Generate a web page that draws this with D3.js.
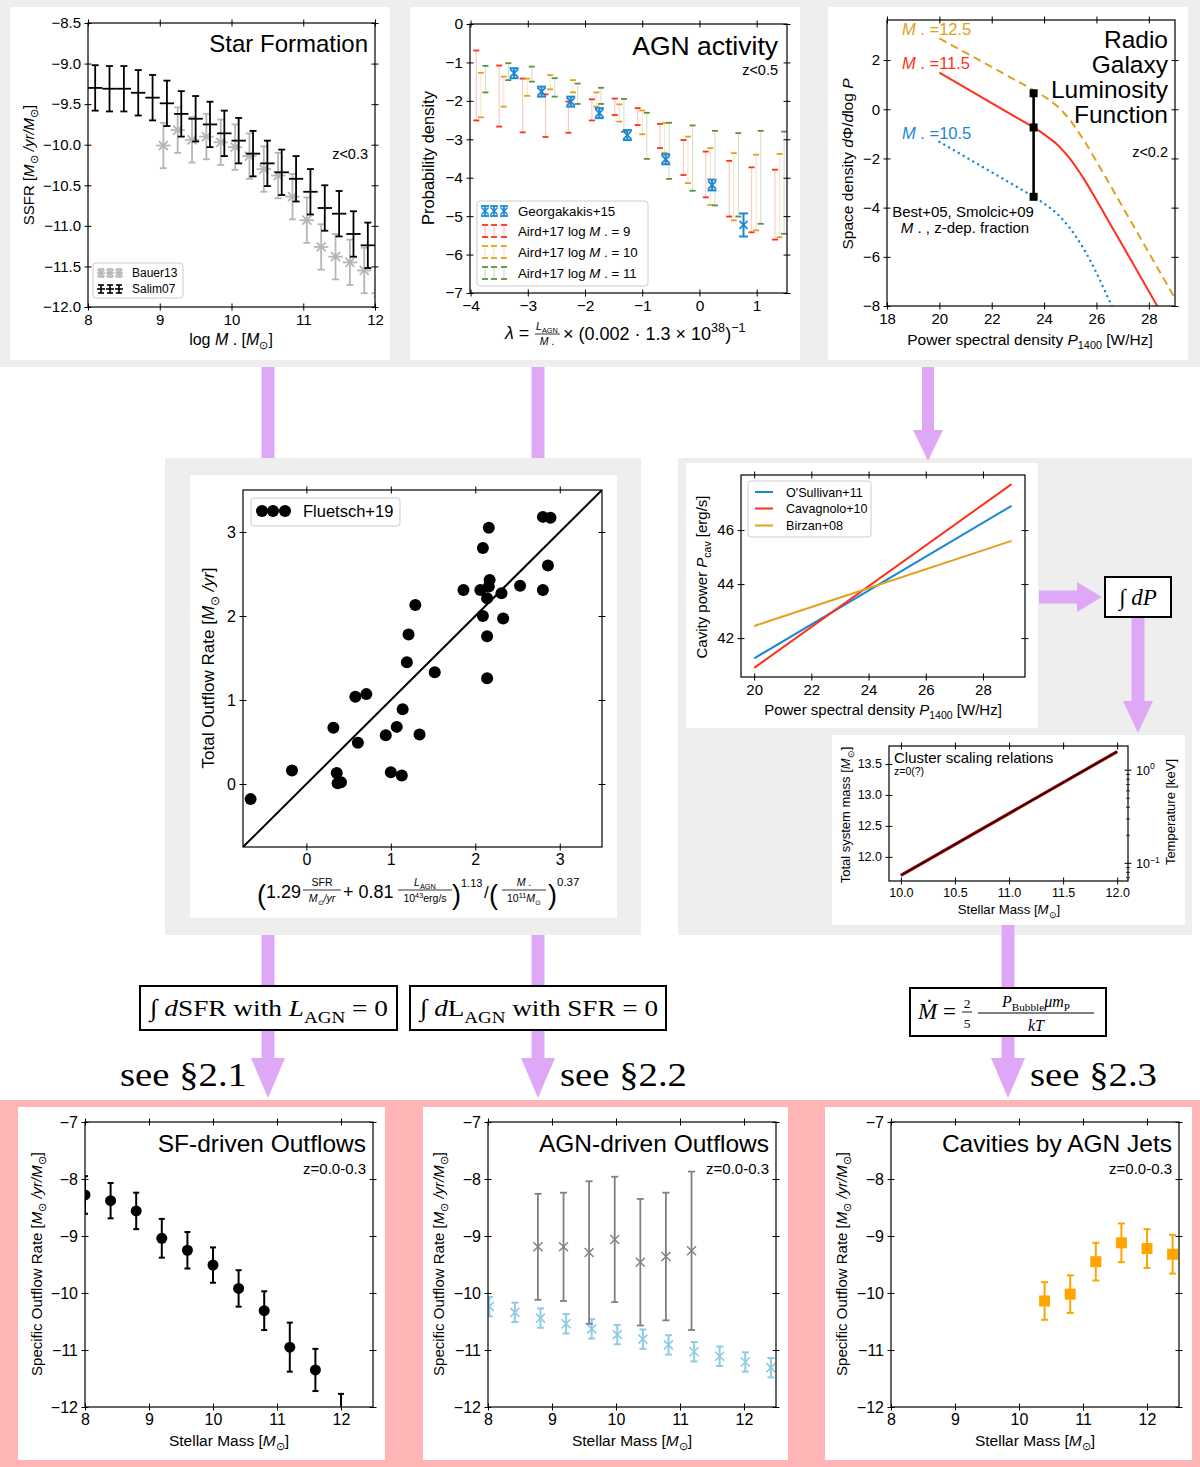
<!DOCTYPE html>
<html><head><meta charset="utf-8">
<script src="https://cdn.jsdelivr.net/npm/d3@7"></script>
<style>body{margin:0;background:#fff}</style>
</head><body><script>
// ---------- data ----------
// Star formation (top left)
const salimMass = [8.1,8.3,8.5,8.7,8.9,9.1,9.3,9.5,9.7,9.9,10.1,10.3,10.5,10.7,10.9,11.1,11.3,11.5,11.7,11.9];
const salimSSFR = [-9.30,-9.31,-9.31,-9.36,-9.42,-9.49,-9.62,-9.68,-9.75,-9.86,-9.95,-10.11,-10.23,-10.34,-10.42,-10.58,-10.78,-10.85,-11.10,-11.24];
const bauerMass = [9.05,9.25,9.45,9.65,9.85,10.05,10.25,10.45,10.65,10.85,11.05,11.25,11.45,11.65,11.85,12.05];
const bauerSSFR = [-10.01,-9.82,-9.94,-9.90,-9.97,-10.03,-10.14,-10.30,-10.38,-10.64,-10.93,-11.26,-11.38,-11.45,-11.55,-11.83];
const ssfrErr = 0.28, massBin = 0.1;

// AGN activity (top middle)
const geoLambda = [-3.24,-2.76,-2.25,-1.75,-1.26,-0.59,0.22,0.77];
const geoDens = [-1.28,-1.76,-2.02,-2.32,-2.89,-3.52,-4.19,-5.23];
const geoErr = [0.13,0.13,0.13,0.13,0.13,0.13,0.14,0.30];
const airdLambda = [-3.90,-3.50,-3.09,-2.69,-2.29,-1.88,-1.48,-1.08,-0.69,-0.28,0.11,0.52,0.91,1.32];
const airdShift = [0, 0.08, 0.16];
const aird9Hi  = [-0.69,-1.08,-1.42,-1.83,-2.02,-1.96,-1.94,-2.19,-2.60,-3.02,-3.32,-3.56,-3.73,-3.79];
const aird9Lo  = [-2.51,-2.67,-2.82,-2.94,-2.83,-2.51,-2.37,-2.63,-3.23,-3.93,-4.51,-5.01,-5.42,-5.61];
const aird10Hi = [-1.27,-1.37,-1.42,-1.33,-1.46,-1.78,-2.09,-2.25,-2.58,-2.93,-3.23,-3.36,-3.40,-3.38];
const aird10Lo = [-2.43,-2.15,-1.87,-1.70,-1.78,-2.15,-2.54,-2.87,-3.35,-4.14,-4.71,-5.11,-5.37,-5.55];
const aird11Hi = [-1.09,-1.02,-1.11,-1.41,-1.55,-1.66,-1.95,-2.31,-2.57,-2.64,-2.78,-2.84,-2.78,-2.80];
const aird11Lo = [-1.78,-1.46,-1.50,-1.89,-2.08,-2.08,-2.80,-3.51,-4.03,-4.34,-4.72,-5.01,-5.20,-5.46];

// Radio luminosity function (top right)
const radioP = [20,21,22,23,23.6,24,24.25,24.5,24.75,25,25.25,25.5,26,26.5,27,27.5,28,28.5,29];
const rlf125 = [2.88,2.30,1.72,1.13,0.78,0.52,0.34,0.12,-0.14,-0.45,-0.83,-1.23,-2.12,-3.04,-3.97,-4.90,-5.83,-6.76,-7.69];
const rlf115 = [1.49,0.87,0.25,-0.37,-0.74,-1.02,-1.22,-1.43,-1.71,-2.03,-2.40,-2.80,-3.69,-4.62,-5.54,-6.47,-7.40,-8.33,-9.26];
const rlf105 = [-1.32,-1.94,-2.56,-3.18,-3.56,-3.83,-4.03,-4.25,-4.53,-4.85,-5.23,-5.65,-6.65,-7.80,-8.90];
const bestP = 23.6, bestDens = [0.65,-0.74,-3.56];

// Outflow scaling (middle left)
const fluetschX = [-0.66,-0.17,0.32,0.36,0.37,0.41,0.58,0.71,0.61,0.94,1.00,1.07,1.13,1.14,1.19,1.21,1.29,1.34,1.52,1.86,2.06,2.09,2.09,2.14,2.14,2.14,2.16,2.17,2.16,2.31,2.33,2.53,2.80,2.80,2.89,2.86];
const fluetschY = [-0.18,0.16,0.67,0.13,0.01,0.02,1.04,1.07,0.49,0.58,0.14,0.68,0.10,0.89,1.45,1.78,2.13,0.59,1.33,2.31,2.31,2.00,2.81,1.26,1.76,2.21,2.35,2.43,3.05,2.27,1.97,2.36,2.31,3.18,3.17,2.60];

// Cavity power relations (middle right)
const cavPower = [20, 29];
const osullivan = [41.25, 46.9];
const cavagnolo = [40.9, 47.7];
const birzan = [42.45, 45.6];

// Cluster scaling
const clusterMstar = [10, 12];
const clusterMtot = [11.7, 13.7];

// Bottom: specific outflow rates
const sfMass = [8.0,8.4,8.8,9.2,9.6,10.0,10.4,10.8,11.2,11.6,12.0];
const sfRate = [-8.28,-8.38,-8.56,-9.04,-9.25,-9.51,-9.92,-10.31,-10.95,-11.35,-12.12];
const sfErr  = [0.33,0.31,0.32,0.34,0.32,0.31,0.32,0.34,0.43,0.37,0.35];
const agnGreyMass = [8.78,9.18,9.58,9.98,10.38,10.78,11.18];
const agnGreyRate = [-9.19,-9.19,-9.29,-9.06,-9.46,-9.36,-9.26];
const agnGreyErr  = [0.93,0.95,1.25,1.10,1.11,1.12,1.39];
const agnBlueMass = [8.02,8.42,8.82,9.22,9.62,10.02,10.42,10.82,11.22,11.62,12.02,12.42];
const agnBlueRate = [-10.24,-10.34,-10.44,-10.54,-10.63,-10.73,-10.81,-10.91,-11.03,-11.11,-11.21,-11.31];
const agnBlueErr = 0.17;
const cavMass = [10.4,10.8,11.2,11.6,12.0,12.4];
const cavRate = [-10.14,-10.02,-9.45,-9.12,-9.22,-9.32];
const cavErr  = [0.33,0.33,0.33,0.34,0.34,0.34];

// ---------- styles ----------
const SANS = "'Liberation Sans', Arial, Helvetica, sans-serif";
const SERIF = "'Liberation Serif', 'DejaVu Serif', serif";
const LAV = "#dfa8f6";
const RED = "#ff3019", GOLD = "#e3a020", GREEN = "#5e8f3e", BLUE = "#1b88d4";

const svg = d3.select("body").append("svg")
    .attr("width", 1200).attr("height", 1467)
    .attr("font-family", SANS);

function box(x, y, w, h, fill) {
    return svg.append("rect").attr("x", x).attr("y", y).attr("width", w).attr("height", h).attr("fill", fill);
}

// backgrounds
box(0, 0, 1200, 367, "#eeeeee");
box(165, 458, 476, 477, "#eeeeee");
box(678, 458, 514, 477, "#eeeeee");
box(0, 1100, 1200, 367, "#ffb5b5");
box(10, 7, 380, 353, "#fff");
box(410, 7, 390, 353, "#fff");
box(828, 7, 360, 353, "#fff");
box(190, 475, 427, 443, "#fff");
box(686, 463, 352, 265, "#fff");
box(832, 735, 353, 190, "#fff");
box(18, 1107, 367, 353, "#fff");
box(423, 1107, 365, 353, "#fff");
box(825, 1107, 367, 353, "#fff");

// text with italic / sub / sup pieces
function rich(t, parts, fs) {
    let cur = 0;
    parts.forEach(p => {
        if (typeof p === "string") p = {t: p};
        const s = p.sub ? 0.28 * fs : p.sup ? -0.42 * fs : 0;
        const ts = t.append("tspan").text(p.t);
        if (s - cur !== 0) ts.attr("dy", s - cur);
        cur = s;
        if (p.i) ts.attr("font-style", "italic");
        if (p.sub || p.sup) ts.attr("font-size", fs * 0.7);
    });
    return t;
}
function label(parent, x, y, fs, parts, opt) {
    opt = opt || {};
    const t = parent.append("text").attr("x", x).attr("y", y).attr("font-size", fs)
        .attr("text-anchor", opt.anchor || "start").attr("fill", opt.color || "#000");
    if (opt.rot) t.attr("transform", "rotate(" + opt.rot + "," + x + "," + y + ")");
    if (opt.family) t.attr("font-family", opt.family);
    if (opt.len) t.attr("textLength", opt.len).attr("lengthAdjust", "spacingAndGlyphs");
    rich(t, typeof parts === "string" ? [parts] : parts, fs);
    return t;
}
const MSUN = [{t: "M", i: 1}, {t: "⊙", sub: 1}];

let clipCount = 0;
function panel(o) {
    const x = d3.scaleLinear().domain(o.xd).range([o.l, o.r]);
    const y = d3.scaleLinear().domain(o.yd).range([o.b, o.t]);
    const g = svg.append("g");
    const id = "clip" + (clipCount++);
    g.append("clipPath").attr("id", id).append("rect")
        .attr("x", o.l).attr("y", o.t).attr("width", o.r - o.l).attr("height", o.b - o.t);
    const plot = g.append("g").attr("clip-path", "url(#" + id + ")");
    const fs = o.fs || 13, tl = 3.5;
    const xf = o.xf || d3.format("d"), yf = o.yf || d3.format("d");
    let sides = [
        {ax: d3.axisBottom(x), tr: "translate(0," + o.b + ")", v: o.xt, f: xf, show: true, k: "y1", s: -tl},
        {ax: d3.axisTop(x), tr: "translate(0," + o.t + ")", v: o.xt, f: xf, show: false, k: "y1", s: tl},
        {ax: d3.axisLeft(y), tr: "translate(" + o.l + ",0)", v: o.yt, f: yf, show: true, k: "x1", s: tl}
    ];
    if (!o.noRight) sides.push({ax: d3.axisRight(y), tr: "translate(" + o.r + ",0)", v: o.yt, f: yf, show: false, k: "x1", s: -tl});
    sides.forEach(s => {
        const a = g.append("g").attr("transform", s.tr)
            .call(s.ax.tickValues(s.v).tickSize(tl).tickSizeOuter(0).tickPadding(3.5)
                .tickFormat(s.show ? s.f : () => ""));
        a.attr("font-family", SANS).attr("font-size", fs);
        a.select(".domain").remove();
        a.selectAll(".tick line").attr(s.k, s.s).attr("stroke-width", 1);
    });
    g.append("rect").attr("x", o.l).attr("y", o.t).attr("width", o.r - o.l).attr("height", o.b - o.t)
        .attr("fill", "none").attr("stroke", "#000").attr("stroke-width", 1.2);
    return {x, y, g, plot};
}

function seg(sel, x1, y1, x2, y2, color, w, op) {
    return sel.append("line").attr("x1", x1).attr("y1", y1).attr("x2", x2).attr("y2", y2)
        .attr("stroke", color).attr("stroke-width", w).attr("stroke-opacity", op == null ? 1 : op);
}
function errV(sel, cx, y1, y2, cap, color, w) {
    seg(sel, cx, y1, cx, y2, color, w);
    seg(sel, cx - cap / 2, y1, cx + cap / 2, y1, color, w);
    seg(sel, cx - cap / 2, y2, cx + cap / 2, y2, color, w);
}
function xmark(sel, cx, cy, h, color, w) {
    sel.append("path").attr("d", `M${cx - h},${cy - h}L${cx + h},${cy + h}M${cx - h},${cy + h}L${cx + h},${cy - h}`)
        .attr("stroke", color).attr("stroke-width", w).attr("fill", "none");
}

// ================= Star Formation =================
{
    const p = panel({l: 88, r: 375, t: 23, b: 307, xd: [8, 12], yd: [-12, -8.5],
        xt: [8, 9, 10, 11, 12], yt: d3.range(-12, -8.49, 0.5), yf: d3.format(".1f"), fs: 15});
    const grey = "#b5b5b5";
    bauerMass.forEach((m, i) => {
        const cx = p.x(m), cy = p.y(bauerSSFR[i]);
        seg(p.plot, p.x(m - massBin), cy, p.x(m + massBin), cy, grey, 1.8);
        errV(p.plot, cx, p.y(bauerSSFR[i] - ssfrErr), p.y(bauerSSFR[i] + ssfrErr), 7, grey, 1.8);
        xmark(p.plot, cx, cy, 4.5, grey, 1.8);
    });
    salimMass.forEach((m, i) => {
        const cx = p.x(m), cy = p.y(salimSSFR[i]);
        seg(p.plot, p.x(m - massBin), cy, p.x(m + massBin), cy, "#000", 1.8);
        errV(p.plot, cx, p.y(salimSSFR[i] - ssfrErr), p.y(salimSSFR[i] + ssfrErr), 7, "#000", 1.8);
    });
    label(p.g, 368, 52, 24, "Star Formation", {anchor: "end"});
    label(p.g, 368, 159, 14.5, "z<0.3", {anchor: "end"});
    label(p.g, 34, 165, 15, ["SSFR [", ...MSUN, {t: " /yr/", i: 1}, ...MSUN, "]"], {anchor: "middle", rot: -90});
    label(p.g, 231, 345, 16, ["log ", {t: "M", i: 1}, " .  [", ...MSUN, "]"], {anchor: "middle"});
    // legend
    const lg = p.g.append("g");
    lg.append("rect").attr("x", 93).attr("y", 263).attr("width", 90).attr("height", 35).attr("rx", 3)
        .attr("fill", "#fff").attr("stroke", "#ccc");
    [101, 110, 119].forEach(cx => {
        seg(lg, cx - 4, 273, cx + 4, 273, grey, 1.6);
        errV(lg, cx, 269, 277, 6, grey, 1.6);
        xmark(lg, cx, 273, 3.5, grey, 1.6);
        seg(lg, cx - 4, 289, cx + 4, 289, "#000", 1.6);
        errV(lg, cx, 285, 293, 6, "#000", 1.6);
    });
    label(lg, 132, 277, 12, "Bauer13");
    label(lg, 132, 293, 12, "Salim07");
}

// ================= AGN activity =================
{
    const p = panel({l: 470, r: 787, t: 24, b: 293, xd: [-4.01, 1.53], yd: [-7, 0],
        xt: [-4, -3, -2, -1, 0, 1], yt: d3.range(-7, 0.01, 1), fs: 15.5});
    const series = [[aird9Hi, aird9Lo, RED], [aird10Hi, aird10Lo, GOLD], [aird11Hi, aird11Lo, GREEN]];
    series.forEach(([hi, lo, c], k) => {
        airdLambda.forEach((l, i) => {
            const cx = p.x(l + airdShift[k]);
            seg(p.plot, cx, p.y(hi[i]), cx, p.y(lo[i]), c, 1.2, 0.25);
            seg(p.plot, cx - 3, p.y(hi[i]), cx + 3, p.y(hi[i]), c, 1.8);
            seg(p.plot, cx - 3, p.y(lo[i]), cx + 3, p.y(lo[i]), c, 1.8);
        });
    });
    geoLambda.forEach((l, i) => {
        const cx = p.x(l), cy = p.y(geoDens[i]);
        errV(p.plot, cx, p.y(geoDens[i] - geoErr[i]), p.y(geoDens[i] + geoErr[i]), 9, BLUE, 2);
        xmark(p.plot, cx, cy, 4, BLUE, 1.8);
    });
    label(p.g, 778, 55, 26.5, "AGN activity", {anchor: "end"});
    label(p.g, 778, 75, 14.5, "z<0.5", {anchor: "end"});
    label(p.g, 434, 158, 16.5, "Probability density", {anchor: "middle", rot: -90});
    // x label: lambda = L_AGN / M* x (...)^-1
    label(p.g, 505, 339, 18, [{t: "λ", i: 1}, " ="]);
    label(p.g, 547, 330, 10.5, [{t: "L", i: 1}, {t: "AGN", sub: 1}], {anchor: "middle"});
    seg(p.g, 535, 334, 560, 334, "#000", 0.8);
    label(p.g, 547, 345, 10.5, [{t: "M", i: 1}, " ."], {anchor: "middle"});
    label(p.g, 563, 340, 18, ["× (0.002 · 1.3 × 10", {t: "38", sup: 1}, ")", {t: "−1", sup: 1}]);
    // legend
    const lg = p.g.append("g");
    lg.append("rect").attr("x", 477).attr("y", 201).attr("width", 171).attr("height", 85).attr("rx", 3)
        .attr("fill", "#fff").attr("stroke", "#ccc");
    const gx = [485, 494, 504];
    gx.forEach(cx => {
        errV(lg, cx, 206, 216, 8, BLUE, 1.8);
        xmark(lg, cx, 211, 3.5, BLUE, 1.6);
    });
    [[RED, 231], [GOLD, 252], [GREEN, 273]].forEach(([c, cy]) => {
        gx.forEach(cx => {
            seg(lg, cx, cy - 6, cx, cy + 6, c, 1.1, 0.3);
            seg(lg, cx - 3, cy - 6, cx + 3, cy - 6, c, 1.8);
            seg(lg, cx - 3, cy + 6, cx + 3, cy + 6, c, 1.8);
        });
    });
    label(lg, 518, 216, 13.3, "Georgakakis+15");
    label(lg, 518, 236, 13.3, ["Aird+17 log ", {t: "M", i: 1}, " .  = 9"]);
    label(lg, 518, 257, 13.3, ["Aird+17 log ", {t: "M", i: 1}, " .  = 10"]);
    label(lg, 518, 278, 13.3, ["Aird+17 log ", {t: "M", i: 1}, " .  = 11"]);
}

// ================= Radio galaxy luminosity function =================
{
    const p = panel({l: 887, r: 1175, t: 20, b: 306, xd: [18, 29], yd: [-8, 3.63],
        xt: d3.range(18, 28.01, 2), yt: d3.range(-8, 2.01, 2), fs: 15});
    const line = d3.line().x(d => p.x(d[0])).y(d => p.y(d[1])).curve(d3.curveMonotoneX);
    const pts = arr => arr.map((v, i) => [radioP[i], v]);
    p.plot.append("path").attr("d", line(pts(rlf125))).attr("fill", "none")
        .attr("stroke", GOLD).attr("stroke-width", 2).attr("stroke-dasharray", "8,5");
    p.plot.append("path").attr("d", line(pts(rlf115))).attr("fill", "none")
        .attr("stroke", RED).attr("stroke-width", 2);
    p.plot.append("path").attr("d", line(pts(rlf105))).attr("fill", "none")
        .attr("stroke", BLUE).attr("stroke-width", 2.4).attr("stroke-dasharray", "0.1,5.5")
        .attr("stroke-linecap", "round");
    const bx = p.x(bestP);
    seg(p.plot, bx, p.y(bestDens[0]), bx, p.y(bestDens[2]), "#000", 2.6);
    bestDens.forEach(v => p.plot.append("rect").attr("x", bx - 4).attr("y", p.y(v) - 4)
        .attr("width", 8).attr("height", 8).attr("fill", "#000"));
    label(p.g, 902, 35, 16.5, [{t: "M", i: 1}, " . =12.5"], {color: GOLD});
    label(p.g, 902, 69, 16.5, [{t: "M", i: 1}, " . =11.5"], {color: RED});
    label(p.g, 902, 139, 16.5, [{t: "M", i: 1}, " . =10.5"], {color: BLUE});
    ["Radio", "Galaxy", "Luminosity", "Function"].forEach((w, i) =>
        label(p.g, 1168, 48 + i * 25, 24.5, w, {anchor: "end"}));
    label(p.g, 1168, 157, 14.5, "z<0.2", {anchor: "end"});
    label(p.g, 963, 217, 15, "Best+05, Smolcic+09", {anchor: "middle"});
    label(p.g, 965, 233, 15, [{t: "M", i: 1}, " . , z-dep. fraction"], {anchor: "middle"});
    label(p.g, 853, 164, 15.5, ["Space density ", {t: "d", i: 1}, "Φ/", {t: "d", i: 1}, "log ", {t: "P", i: 1}], {anchor: "middle", rot: -90});
    label(p.g, 1030, 345, 15.5, ["Power spectral density ", {t: "P", i: 1}, {t: "1400", sub: 1}, " [W/Hz]"], {anchor: "middle"});
}

// ================= Total outflow rate scatter =================
{
    const p = panel({l: 243, r: 602, t: 490, b: 847, xd: [-0.75, 3.5], yd: [-0.75, 3.5],
        xt: [0, 1, 2, 3], yt: [0, 1, 2, 3], fs: 16});
    seg(p.plot, p.x(-0.75), p.y(-0.75), p.x(3.5), p.y(3.5), "#000", 2);
    fluetschX.forEach((v, i) => p.plot.append("circle").attr("cx", p.x(v)).attr("cy", p.y(fluetschY[i]))
        .attr("r", 6).attr("fill", "#000"));
    const lg = p.g.append("g");
    lg.append("rect").attr("x", 251).attr("y", 498).attr("width", 149).attr("height", 28).attr("rx", 3)
        .attr("fill", "#fff").attr("stroke", "#ccc");
    [262, 273, 285].forEach(cx => lg.append("circle").attr("cx", cx).attr("cy", 511).attr("r", 6).attr("fill", "#000"));
    label(lg, 303, 517, 16.5, "Fluetsch+19");
    label(p.g, 214, 668, 17, ["Total Outflow Rate [", ...MSUN, {t: " /yr", i: 1}, "]"], {anchor: "middle", rot: -90});
    // x label formula
    const f = p.g.append("g");
    label(f, 257, 904, 27, "(");
    label(f, 266, 898, 18, "1.29");
    label(f, 322, 886, 10.5, "SFR", {anchor: "middle"});
    seg(f, 303, 890, 341, 890, "#000", 0.8);
    label(f, 322, 902, 10.5, [...MSUN, {t: "/yr", i: 1}], {anchor: "middle"});
    label(f, 343, 898, 18, "+ 0.81");
    label(f, 425, 886, 10.5, [{t: "L", i: 1}, {t: "AGN", sub: 1}], {anchor: "middle"});
    seg(f, 398, 890, 452, 890, "#000", 0.8);
    label(f, 425, 902, 10.5, ["10", {t: "43", sup: 1}, "erg/s"], {anchor: "middle"});
    label(f, 452, 904, 27, ")");
    label(f, 461, 887, 11, "1.13");
    label(f, 484, 898, 17, "/");
    label(f, 489, 904, 27, "(");
    label(f, 524, 886, 10.5, [{t: "M", i: 1}, " ."], {anchor: "middle"});
    seg(f, 502, 890, 546, 890, "#000", 0.8);
    label(f, 524, 902, 10.5, ["10", {t: "11", sup: 1}, ...MSUN], {anchor: "middle"});
    label(f, 548, 904, 27, ")");
    label(f, 557, 886, 11.5, "0.37");
}

// ================= Cavity power =================
{
    const p = panel({l: 741, r: 1025, t: 475, b: 677, xd: [19.54, 29.47], yd: [40.56, 48.04],
        xt: [20, 22, 24, 26, 28], yt: [42, 44, 46], fs: 15});
    const rels = [[osullivan, BLUE], [cavagnolo, RED], [birzan, GOLD]];
    rels.forEach(([v, c]) => seg(p.plot, p.x(cavPower[0]), p.y(v[0]), p.x(cavPower[1]), p.y(v[1]), c, 2));
    const lg = p.g.append("g");
    lg.append("rect").attr("x", 748).attr("y", 481).attr("width", 123).attr("height", 56).attr("rx", 3)
        .attr("fill", "#fff").attr("stroke", "#ccc");
    [["O'Sullivan+11", BLUE, 492], ["Cavagnolo+10", RED, 508.5], ["Birzan+08", GOLD, 525.5]].forEach(([t, c, cy]) => {
        seg(lg, 755, cy, 773, cy, c, 2);
        label(lg, 786, cy + 4.5, 12.6, t);
    });
    label(p.g, 707, 577, 15, ["Cavity power ", {t: "P", i: 1}, {t: "cav", sub: 1}, " [erg/s]"], {anchor: "middle", rot: -90});
    label(p.g, 883, 715, 15, ["Power spectral density ", {t: "P", i: 1}, {t: "1400", sub: 1}, " [W/Hz]"], {anchor: "middle"});
}

// ================= Cluster scaling relations =================
{
    const p = panel({l: 889, r: 1128, t: 746, b: 881, xd: [9.89, 12.1], yd: [11.61, 13.79],
        xt: [10, 10.5, 11, 11.5, 12], yt: [12, 12.5, 13, 13.5], xf: d3.format(".1f"), yf: d3.format(".1f"),
        fs: 12.5, noRight: true});
    const yT = d3.scaleLog().domain([0.0646, 1.82]).range([881, 746]);
    const rt = p.g.append("g");
    [0.07, 0.08, 0.09, 0.2, 0.3, 0.4, 0.5, 0.6, 0.7, 0.8, 0.9].forEach(v =>
        seg(rt, 1126, yT(v), 1130, yT(v), "#000", 0.8));
    [[0.1, "−1"], [1, "0"]].forEach(([v, e]) => {
        seg(rt, 1124.5, yT(v), 1131.5, yT(v), "#000", 1);
        label(rt, 1136, yT(v) + 4.5, 12.5, ["10", {t: e, sup: 1}]);
    });
    seg(p.plot, p.x(clusterMstar[0]), p.y(clusterMtot[0]), p.x(clusterMstar[1]), p.y(clusterMtot[1]), "#a00000", 3.2);
    seg(p.plot, p.x(clusterMstar[0]), p.y(clusterMtot[0]), p.x(clusterMstar[1]), p.y(clusterMtot[1]), "#1a0000", 1.2);
    label(p.g, 894, 763, 15, "Cluster scaling relations");
    label(p.g, 894, 775, 10.5, "z=0(?)");
    label(p.g, 850, 815, 13, ["Total system mass [", ...MSUN, "]"], {anchor: "middle", rot: -90});
    label(p.g, 1175, 812, 13, "Temperature [keV]", {anchor: "middle", rot: -90});
    label(p.g, 1009, 914, 13.2, ["Stellar Mass [", ...MSUN, "]"], {anchor: "middle"});
}

// ================= bottom row =================
function outflowPanel(l, title, ylx) {
    const p = panel({l: l, r: l + 288, t: 1122, b: 1407, xd: [8, 12.5], yd: [-12, -7],
        xt: [8, 9, 10, 11, 12], yt: d3.range(-12, -6.99, 1), fs: 16});
    label(p.g, l + 281, 1152, 24.5, title, {anchor: "end"});
    label(p.g, l + 281, 1174, 15, "z=0.0-0.3", {anchor: "end"});
    label(p.g, ylx, 1264, 15, ["Specific Outflow Rate [", ...MSUN, {t: " /yr/", i: 1}, ...MSUN, "]"], {anchor: "middle", rot: -90});
    label(p.g, l + 144, 1446, 15.5, ["Stellar Mass [", ...MSUN, "]"], {anchor: "middle"});
    return p;
}
{
    const p = outflowPanel(85, "SF-driven Outflows", 42);
    sfMass.forEach((m, i) => {
        errV(p.plot, p.x(m), p.y(sfRate[i] - sfErr[i]), p.y(sfRate[i] + sfErr[i]), 6, "#000", 2);
        p.plot.append("circle").attr("cx", p.x(m)).attr("cy", p.y(sfRate[i])).attr("r", 5.5).attr("fill", "#000");
    });
}
{
    const p = outflowPanel(488, "AGN-driven Outflows", 444);
    const lb = "#8fcbe3";
    agnBlueMass.forEach((m, i) => {
        errV(p.plot, p.x(m), p.y(agnBlueRate[i] - agnBlueErr), p.y(agnBlueRate[i] + agnBlueErr), 7, lb, 2);
        xmark(p.plot, p.x(m), p.y(agnBlueRate[i]), 4.5, lb, 1.6);
    });
    agnGreyMass.forEach((m, i) => {
        errV(p.plot, p.x(m), p.y(agnGreyRate[i] - agnGreyErr[i]), p.y(agnGreyRate[i] + agnGreyErr[i]), 7, "#808080", 1.8);
        xmark(p.plot, p.x(m), p.y(agnGreyRate[i]), 4.5, "#808080", 1.4);
    });
}
{
    const p = outflowPanel(891, "Cavities by AGN Jets", 847);
    cavMass.forEach((m, i) => {
        errV(p.plot, p.x(m), p.y(cavRate[i] - cavErr[i]), p.y(cavRate[i] + cavErr[i]), 7, "#ffa500", 2);
        p.plot.append("rect").attr("x", p.x(m) - 5.5).attr("y", p.y(cavRate[i]) - 5.5)
            .attr("width", 11).attr("height", 11).attr("fill", "#ffa500");
    });
}

// ================= flow arrows and boxes =================
function arrow(x1, y1, x2, y2, w, hw, hl) {
    const dx = x2 - x1, dy = y2 - y1, L = Math.hypot(dx, dy), ux = dx / L, uy = dy / L, px = -uy, py = ux;
    const bx = x2 - ux * hl, by = y2 - uy * hl;
    const pts = [[x1 + px * w / 2, y1 + py * w / 2], [bx + px * w / 2, by + py * w / 2],
        [bx + px * hw / 2, by + py * hw / 2], [x2, y2], [bx - px * hw / 2, by - py * hw / 2],
        [bx - px * w / 2, by - py * w / 2], [x1 - px * w / 2, y1 - py * w / 2]];
    svg.append("polygon").attr("points", pts.map(p => p.join(",")).join(" ")).attr("fill", LAV);
}
arrow(268, 367, 268, 458, 13, 13, 0);
arrow(538, 367, 538, 458, 13, 13, 0);
arrow(928, 367, 928, 461, 12, 30, 31);
arrow(1039, 597, 1102, 597, 13, 30, 25);
arrow(1138, 617, 1138, 733, 13, 30, 32);
arrow(268, 935, 268, 1098, 13, 34, 40);
arrow(538, 935, 538, 1098, 13, 34, 40);
arrow(1008, 925, 1008, 1098, 13, 34, 40);

function fbox(x, y, w, h) {
    svg.append("rect").attr("x", x).attr("y", y).attr("width", w).attr("height", h)
        .attr("fill", "#fff").attr("stroke", "#000").attr("stroke-width", 2);
}
fbox(1105, 577, 66, 40);
label(svg, 1138, 605, 23, ["∫ ", {t: "dP", i: 1}], {anchor: "middle", family: SERIF});
fbox(140, 986, 257, 44);
label(svg, 150, 1016, 24, ["∫ ", {t: "d", i: 1}, "SFR with ", {t: "L", i: 1}, {t: "AGN", sub: 1}, " = 0"], {family: SERIF, len: 238});
fbox(410, 986, 256, 44);
label(svg, 420, 1016, 24, ["∫ ", {t: "d", i: 1}, "L", {t: "AGN", sub: 1}, " with SFR = 0"], {family: SERIF, len: 238});
fbox(910, 988, 196, 48);
{
    const f = svg.append("g").attr("font-family", SERIF);
    label(f, 918, 1019, 23, [{t: "Ṁ", i: 1}, " ="]);
    label(f, 967, 1008, 13.5, "2", {anchor: "middle"});
    seg(f, 962, 1012, 972, 1012, "#000", 0.9);
    label(f, 967, 1028, 13.5, "5", {anchor: "middle"});
    label(f, 1036, 1007, 16, [{t: "P", i: 1}, {t: "Bubble", sub: 1}, {t: "μm", i: 1}, {t: "P", sub: 1}], {anchor: "middle"});
    seg(f, 978, 1013, 1094, 1013, "#000", 1);
    label(f, 1036, 1031, 16, [{t: "kT", i: 1}], {anchor: "middle"});
}
label(svg, 120, 1086, 34, "see §2.1", {family: SERIF, len: 127});
label(svg, 560, 1086, 34, "see §2.2", {family: SERIF, len: 127});
label(svg, 1030, 1086, 34, "see §2.3", {family: SERIF, len: 127});
</script></body></html>
